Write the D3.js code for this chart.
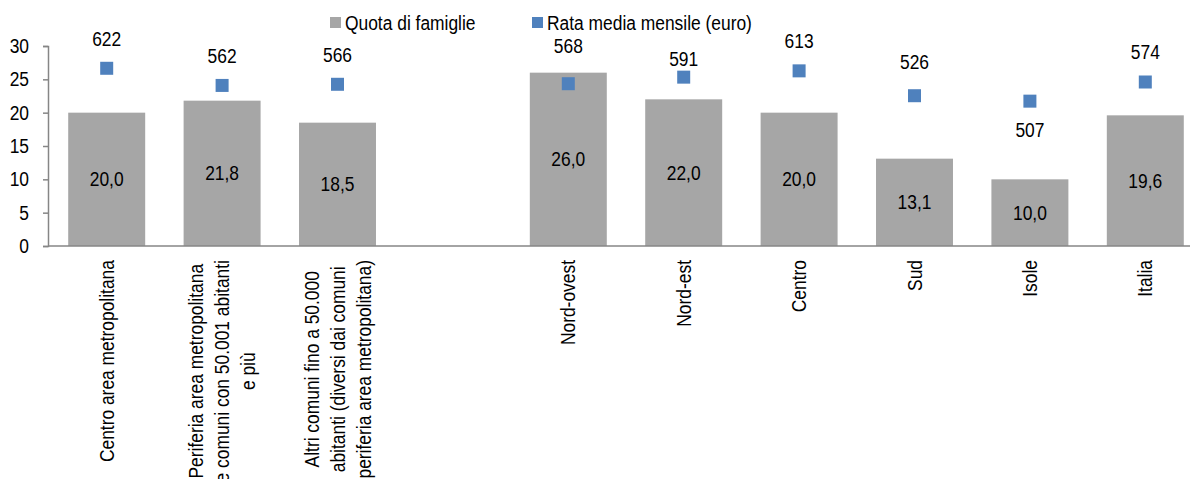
<!DOCTYPE html>
<html>
<head>
<meta charset="utf-8">
<script src="https://cdn.jsdelivr.net/npm/d3@7"></script>
<style>
  body { margin: 0; background: #fff; }
  svg text { font-family: "Liberation Sans", Arial, sans-serif; fill: #000; }
</style>
</head>
<body>
<div id="chart"></div>
<script>
// categorie (la quarta è uno spazio vuoto tra ripartizioni comunali e geografiche)
var categories = [
    ["Centro area metropolitana"],
    ["Periferia area metropolitana", "e comuni con 50.001 abitanti", "e più"],
    ["Altri comuni fino a 50.000", "abitanti (diversi dai comuni", "periferia area metropolitana)"],
    [""],
    ["Nord-ovest"],
    ["Nord-est"],
    ["Centro"],
    ["Sud"],
    ["Isole"],
    ["Italia"]
];
var quotaFamiglie = [20.0, 21.8, 18.5, null, 26.0, 22.0, 20.0, 13.1, 10.0, 19.6];
var rataMedia = [622, 562, 566, null, 568, 591, 613, 526, 507, 574];
var yTicks = [0, 5, 10, 15, 20, 25, 30];
var seriesNames = ["Quota di famiglie", "Rata media mensile (euro)"];

// spostamento delle etichette dei quadrati (come nel grafico originale)
var labelShift = [-29, -29, -29, 0, -38, -18, -30, -34, 29, -30];

var width = 1190, height = 479;
var margin = {top: 46, left: 49, bottom: 233};
var plotBottom = height - margin.bottom;
var fs = 20, narrow = 0.87; // niente Arial Narrow: comprimo in orizzontale

var svg = d3.select("#chart").append("svg")
    .attr("width", width)
    .attr("height", height);

var x = d3.scaleBand()
    .domain(d3.range(categories.length))
    .range([margin.left, margin.left + 115.4 * categories.length])
    .paddingInner(0.333)
    .paddingOuter(0.1665);

var y = d3.scaleLinear().domain([0, 30]).range([plotBottom, margin.top]);
var y2 = d3.scaleLinear().domain([0, 700]).range([plotBottom, margin.top]); // asse secondario nascosto

var fmt = function (v) { return d3.format(".1f")(v).replace(".", ","); };
var place = function (px, py) { return "translate(" + px + "," + py + ") scale(" + narrow + ",1)"; };

var idx = d3.range(categories.length).filter(function (i) { return quotaFamiglie[i] !== null; });

// barre
svg.selectAll("rect.bar")
    .data(idx)
    .enter().append("rect")
    .attr("class", "bar")
    .attr("x", function (i) { return x(i); })
    .attr("width", x.bandwidth())
    .attr("y", function (i) { return y(quotaFamiglie[i]); })
    .attr("height", function (i) { return y(0) - y(quotaFamiglie[i]); })
    .attr("fill", "#a6a6a6");

svg.selectAll("text.barlab")
    .data(idx)
    .enter().append("text")
    .attr("class", "barlab")
    .attr("transform", function (i) {
        return place(x(i) + x.bandwidth() / 2, (y(quotaFamiglie[i]) + y(0)) / 2);
    })
    .attr("dy", "0.35em")
    .attr("text-anchor", "middle")
    .attr("font-size", fs)
    .text(function (i) { return fmt(quotaFamiglie[i]); });

// assi
var yAxis = svg.append("g")
    .attr("transform", "translate(" + (margin.left - 1) + ",0)")
    .call(d3.axisLeft(y).tickValues(yTicks).tickSize(5));
yAxis.select(".domain").attr("stroke", "#868686").attr("stroke-width", 1.5);
yAxis.selectAll(".tick line").attr("stroke", "#868686").attr("stroke-width", 1.5);
yAxis.selectAll(".tick text")
    .attr("font-size", fs).attr("font-family", null)
    .attr("x", -19 / narrow)
    .attr("transform", "scale(" + narrow + ",1)");

svg.append("line")
    .attr("x1", margin.left - 1).attr("x2", width)
    .attr("y1", y(0)).attr("y2", y(0))
    .attr("stroke", "#868686").attr("stroke-width", 1.5);

// quadrati della rata media
svg.selectAll("rect.mark")
    .data(idx)
    .enter().append("rect")
    .attr("class", "mark")
    .attr("x", function (i) { return x(i) + x.bandwidth() / 2 - 6.5; })
    .attr("y", function (i) { return y2(rataMedia[i]) - 6.5; })
    .attr("width", 13).attr("height", 13)
    .attr("fill", "#4f81bd");

svg.selectAll("text.marklab")
    .data(idx)
    .enter().append("text")
    .attr("class", "marklab")
    .attr("transform", function (i) {
        return place(x(i) + x.bandwidth() / 2, y2(rataMedia[i]) + labelShift[i]);
    })
    .attr("dy", "0.35em")
    .attr("text-anchor", "middle")
    .attr("font-size", fs)
    .text(function (i) { return rataMedia[i]; });

// etichette asse x, ruotate
var lineGap = 26, labelTop = 260;
categories.forEach(function (lines, i) {
    var cx = x(i) + x.bandwidth() / 2;
    var g = svg.append("g");
    var texts = lines.map(function (t) {
        return g.append("text")
            .attr("font-size", fs)
            .attr("text-anchor", "middle")
            .text(t);
    });
    var maxLen = d3.max(texts, function (t) { return t.node().getComputedTextLength(); }) * narrow;
    var cy = labelTop + maxLen / 2;
    texts.forEach(function (t, k) {
        var lx = cx + (k - (lines.length - 1) / 2) * lineGap;
        t.attr("transform", "translate(" + (lx + 7) + "," + cy + ") rotate(-90) scale(" + narrow + ",1)");
    });
});

// legenda
var legend = [
    {name: seriesNames[0], color: "#a6a6a6", x: 330},
    {name: seriesNames[1], color: "#4f81bd", x: 532}
];
var lg = svg.selectAll("g.legend")
    .data(legend)
    .enter().append("g")
    .attr("class", "legend")
    .attr("transform", function (d) { return "translate(" + d.x + ",17)"; });
lg.append("rect").attr("width", 11).attr("height", 11).attr("fill", function (d) { return d.color; });
lg.append("text")
    .attr("transform", place(15, 6))
    .attr("dy", "0.35em")
    .attr("font-size", fs)
    .text(function (d) { return d.name; });
</script>
</body>
</html>
